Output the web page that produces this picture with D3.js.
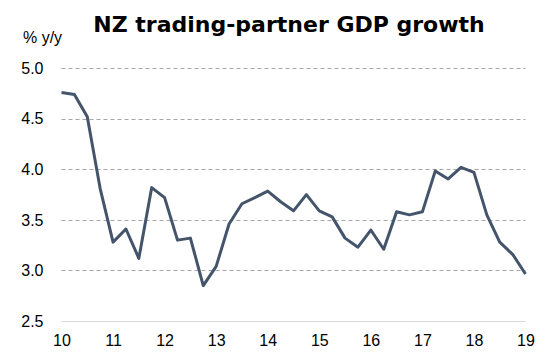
<!DOCTYPE html>
<html><head><meta charset="utf-8">
<script src="https://cdn.jsdelivr.net/npm/d3@7"></script>
<style>body{margin:0;background:#fff}</style>
</head><body>
<svg id="c" width="549" height="364"></svg>
<script>
const values = [4.76,4.74,4.52,3.81,3.28,3.41,3.12,3.82,3.72,3.30,3.32,2.85,3.04,3.46,3.66,3.72,3.785,3.68,3.59,3.75,3.59,3.53,3.32,3.23,3.40,3.21,3.58,3.55,3.58,3.985,3.905,4.02,3.97,3.55,3.28,3.16,2.965];
const yearLabels = ["10","11","12","13","14","15","16","17","18","19"];
const yTicks = [2.5,3.0,3.5,4.0,4.5,5.0];
const title = "NZ trading-partner GDP growth";
const unit = "% y/y";

const svg = d3.select("#c");
const x = d3.scaleLinear().domain([0, values.length-1]).range([61.5, 525.5]);
const y = d3.scaleLinear().domain([2.5, 5.0]).range([321, 68.3]);
const lf = "'Liberation Sans', Arial, sans-serif";

svg.append("g").selectAll("line").data(yTicks.filter(d=>d>2.5)).join("line")
  .attr("x1", 61.5).attr("x2", 525.5)
  .attr("y1", d=>Math.round(y(d))+0.5).attr("y2", d=>Math.round(y(d))+0.5)
  .attr("stroke", "#a6a6a6").attr("stroke-width", 1).attr("stroke-dasharray", "4,3");
svg.append("line").attr("x1",61.5).attr("x2",525.5).attr("y1",Math.round(y(2.5))+0.5).attr("y2",Math.round(y(2.5))+0.5)
  .attr("stroke","#d9d9d9").attr("stroke-width",1);

const yAxis = d3.axisLeft(y).tickValues(yTicks).tickFormat(d3.format(".1f")).tickSize(0).tickPadding(18);
const gy = svg.append("g").attr("transform","translate(61.5,0)").call(yAxis);
gy.select(".domain").remove();
gy.selectAll("text").attr("font-family",lf).attr("font-size",16).attr("fill","#000");

const xAxis = d3.axisBottom(x).tickValues(yearLabels.map((d,i)=>i*4)).tickFormat((d,i)=>yearLabels[i]).tickSize(0).tickPadding(14);
const gx = svg.append("g").attr("transform","translate(0,"+y(2.5)+")").call(xAxis);
gx.select(".domain").remove();
gx.selectAll("text").attr("font-family",lf).attr("font-size",16).attr("fill","#000");

svg.append("path").datum(values)
  .attr("d", d3.line().x((d,i)=>x(i)).y(d=>y(d)))
  .attr("fill","none").attr("stroke","#44546a").attr("stroke-width",3).attr("stroke-linejoin","round");

svg.append("text").attr("x", 289).attr("y", 32).attr("text-anchor","middle")
  .attr("font-family","'DejaVu Sans', sans-serif").attr("font-weight","bold").attr("font-size",22).text(title);
svg.append("text").attr("x", 23).attr("y", 43)
  .attr("font-family",lf).attr("font-size",16).text(unit);
</script>
</body></html>
